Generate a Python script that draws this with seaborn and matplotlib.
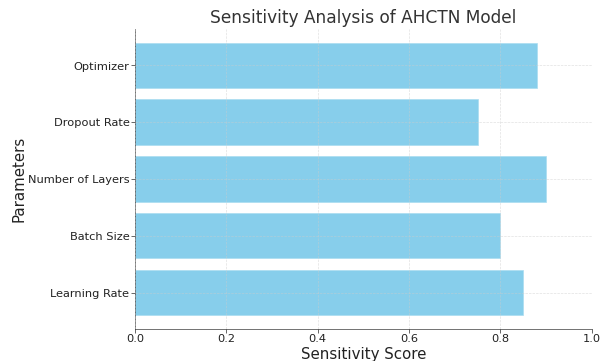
import matplotlib
matplotlib.use("Agg")
import matplotlib.pyplot as plt
import seaborn as sns
import pandas as pd

parameters = ["Learning Rate", "Batch Size", "Number of Layers", "Dropout Rate", "Optimizer"]
scores = [0.85, 0.80, 0.90, 0.75, 0.88]

df = pd.DataFrame({"Parameter": parameters, "Score": scores})

sns.set_style("ticks")
plt.rcParams['font.family'] = ['DejaVu Sans']

fig = plt.figure(figsize=(10, 6), dpi=60.2)
ax = fig.add_axes([0.224, 0.089, 0.759, 0.830])

sns.barplot(data=df, x="Score", y="Parameter", order=parameters[::-1],
            color="#87CEEB", saturation=1, width=0.8, ax=ax, edgecolor="#a9dcf0", linewidth=0.8)

ax.set_ylim(4.64, -0.64)
ax.set_xlim(0, 1.0)
ax.set_xticks([0.0, 0.2, 0.4, 0.6, 0.8, 1.0])
ax.set_xticklabels(["0.0", "0.2", "0.4", "0.6", "0.8", "1.0"])
ax.grid(True, linestyle="--", color="#cccccc", alpha=0.6, linewidth=0.8)
ax.set_axisbelow(False)
for s in ["top", "right"]:
    ax.spines[s].set_visible(False)
for s in ["left", "bottom"]:
    ax.spines[s].set_color("#333333")
ax.tick_params(axis="both", labelsize=13.7, colors="#222222", length=4.5, pad=2)

ax.set_title("Sensitivity Analysis of AHCTN Model", fontsize=20.3, color="#333333", pad=8)
ax.set_xlabel("Sensitivity Score", fontsize=18, color="#222222", labelpad=3)
ax.set_ylabel("Parameters", fontsize=18, color="#222222", labelpad=2)

fig.savefig("out.png", dpi=60.2)
